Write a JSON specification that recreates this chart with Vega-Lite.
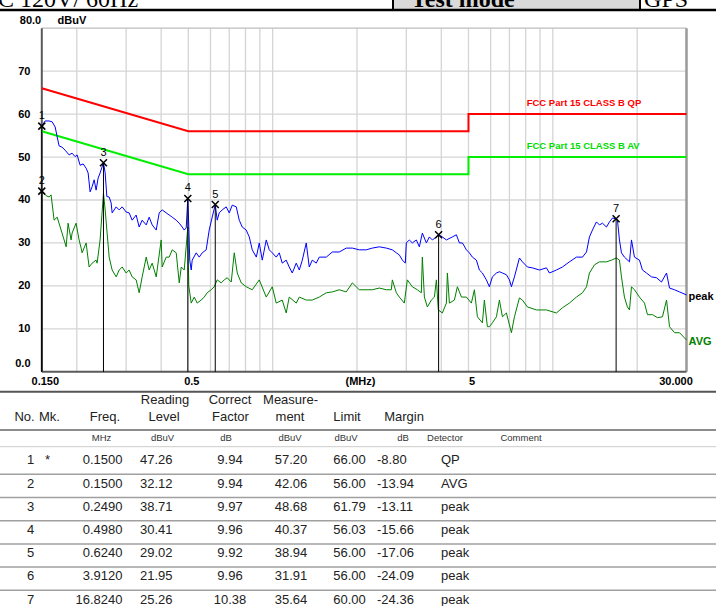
{
"$schema": "https://vega.github.io/schema/vega-lite/v6.json",
"width": 716, "height": 606,
"autosize": {"type": "none"},
"padding": 0,
"background": "white",
"config": {"view": {"stroke": null}, "text": {"font": "Liberation Sans"}},
"datasets": {
"peak": [{"f":0.15,"v":57.2},{"f":0.1541,"v":58.4},{"f":0.1593,"v":58.4},{"f":0.1633,"v":58.2},{"f":0.1674,"v":57.0},{"f":0.1702,"v":54.7},{"f":0.1729,"v":52.6},{"f":0.1772,"v":52.3},{"f":0.1817,"v":51.6},{"f":0.1877,"v":50.5},{"f":0.1924,"v":50.9},{"f":0.1972,"v":50.1},{"f":0.2005,"v":50.5},{"f":0.2055,"v":48.1},{"f":0.2107,"v":48.4},{"f":0.2159,"v":47.4},{"f":0.2195,"v":46.3},{"f":0.2231,"v":41.9},{"f":0.2268,"v":43.1},{"f":0.2306,"v":44.7},{"f":0.2344,"v":42.3},{"f":0.2383,"v":45.1},{"f":0.2422,"v":46.3},{"f":0.249,"v":48.7},{"f":0.2525,"v":46.3},{"f":0.256,"v":40.8},{"f":0.2609,"v":40.7},{"f":0.2652,"v":39.3},{"f":0.2674,"v":37.0},{"f":0.2764,"v":38.4},{"f":0.2833,"v":37.7},{"f":0.2904,"v":38.4},{"f":0.3,"v":37.2},{"f":0.3075,"v":37.0},{"f":0.3152,"v":35.3},{"f":0.3257,"v":36.5},{"f":0.3339,"v":33.7},{"f":0.3422,"v":35.3},{"f":0.3538,"v":34.2},{"f":0.3625,"v":36.0},{"f":0.3716,"v":34.2},{"f":0.3841,"v":33.0},{"f":0.3936,"v":37.0},{"f":0.4034,"v":37.7},{"f":0.417,"v":37.0},{"f":0.4274,"v":36.5},{"f":0.4381,"v":36.0},{"f":0.4527,"v":35.3},{"f":0.4641,"v":34.6},{"f":0.4757,"v":33.7},{"f":0.4835,"v":33.0},{"f":0.4915,"v":33.5},{"f":0.498,"v":40.4},{"f":0.502,"v":34.0},{"f":0.506,"v":26.0},{"f":0.5121,"v":23.7},{"f":0.5163,"v":26.0},{"f":0.5336,"v":27.7},{"f":0.5469,"v":26.7},{"f":0.5606,"v":27.7},{"f":0.5792,"v":28.4},{"f":0.5937,"v":33.0},{"f":0.6085,"v":36.0},{"f":0.624,"v":38.9},{"f":0.6341,"v":35.3},{"f":0.6447,"v":37.0},{"f":0.6608,"v":37.7},{"f":0.6828,"v":38.4},{"f":0.7,"v":37.0},{"f":0.7175,"v":38.8},{"f":0.7415,"v":38.4},{"f":0.76,"v":35.3},{"f":0.779,"v":33.7},{"f":0.805,"v":33.0},{"f":0.8251,"v":31.4},{"f":0.8457,"v":28.4},{"f":0.8745,"v":26.7},{"f":0.8958,"v":30.0},{"f":0.9182,"v":26.0},{"f":0.9488,"v":30.7},{"f":0.9725,"v":28.4},{"f":0.9968,"v":27.7},{"f":1.03,"v":26.7},{"f":1.056,"v":27.7},{"f":1.082,"v":25.3},{"f":1.118,"v":26.0},{"f":1.146,"v":24.4},{"f":1.175,"v":23.0},{"f":1.214,"v":25.3},{"f":1.245,"v":23.7},{"f":1.276,"v":26.0},{"f":1.318,"v":30.0},{"f":1.351,"v":24.4},{"f":1.385,"v":26.0},{"f":1.431,"v":25.3},{"f":1.467,"v":26.7},{"f":1.554,"v":26.7},{"f":1.633,"v":27.9},{"f":1.729,"v":27.9},{"f":1.831,"v":28.8},{"f":1.925,"v":28.8},{"f":2.038,"v":28.4},{"f":2.159,"v":28.4},{"f":2.268,"v":28.8},{"f":2.402,"v":29.1},{"f":2.546,"v":28.8},{"f":2.674,"v":28.4},{"f":2.764,"v":27.7},{"f":2.833,"v":27.2},{"f":2.904,"v":26.0},{"f":2.975,"v":25.3},{"f":3.0,"v":30.0},{"f":3.075,"v":30.7},{"f":3.152,"v":30.0},{"f":3.257,"v":30.7},{"f":3.339,"v":29.1},{"f":3.422,"v":32.3},{"f":3.538,"v":30.0},{"f":3.625,"v":31.4},{"f":3.716,"v":30.7},{"f":3.841,"v":31.4},{"f":3.912,"v":31.9},{"f":4.034,"v":31.4},{"f":4.17,"v":30.7},{"f":4.381,"v":31.4},{"f":4.527,"v":31.9},{"f":4.641,"v":30.0},{"f":4.757,"v":30.0},{"f":4.915,"v":28.4},{"f":5.037,"v":27.7},{"f":5.163,"v":26.7},{"f":5.336,"v":26.0},{"f":5.469,"v":23.7},{"f":5.606,"v":23.0},{"f":5.792,"v":21.4},{"f":5.937,"v":19.8},{"f":6.085,"v":22.1},{"f":6.29,"v":23.0},{"f":6.447,"v":23.3},{"f":6.608,"v":23.0},{"f":6.828,"v":22.6},{"f":7.0,"v":21.4},{"f":7.116,"v":19.8},{"f":7.294,"v":22.1},{"f":7.6,"v":26.5},{"f":7.79,"v":25.6},{"f":8.117,"v":24.4},{"f":8.457,"v":24.2},{"f":8.958,"v":23.7},{"f":9.488,"v":24.2},{"f":9.725,"v":23.0},{"f":10.3,"v":23.7},{"f":10.82,"v":24.4},{"f":11.46,"v":25.6},{"f":12.14,"v":26.7},{"f":12.76,"v":26.7},{"f":13.19,"v":27.9},{"f":13.51,"v":31.4},{"f":13.85,"v":33.0},{"f":14.31,"v":34.9},{"f":14.67,"v":34.2},{"f":15.04,"v":34.6},{"f":15.54,"v":33.7},{"f":15.93,"v":34.9},{"f":16.33,"v":35.8},{"f":16.824,"v":35.6},{"f":17.01,"v":35.3},{"f":17.29,"v":30.7},{"f":17.58,"v":27.7},{"f":18.01,"v":26.7},{"f":18.78,"v":25.6},{"f":19.09,"v":30.7},{"f":19.56,"v":26.7},{"f":20.38,"v":26.0},{"f":20.89,"v":23.7},{"f":21.59,"v":23.0},{"f":22.5,"v":22.1},{"f":23.45,"v":21.9},{"f":24.42,"v":20.9},{"f":25.46,"v":23.0},{"f":26.09,"v":19.5},{"f":27.19,"v":19.1},{"f":28.33,"v":18.6},{"f":30.0,"v":17.9}],
"avg": [{"f":0.15,"v":42.0},{"f":0.1554,"v":41.0},{"f":0.1593,"v":40.7},{"f":0.1619,"v":41.2},{"f":0.166,"v":35.3},{"f":0.1702,"v":36.0},{"f":0.1758,"v":33.0},{"f":0.1802,"v":30.7},{"f":0.1832,"v":29.1},{"f":0.1862,"v":34.6},{"f":0.1908,"v":30.7},{"f":0.1924,"v":32.3},{"f":0.1988,"v":34.6},{"f":0.2038,"v":30.7},{"f":0.2072,"v":28.8},{"f":0.2089,"v":27.7},{"f":0.2159,"v":30.0},{"f":0.2213,"v":24.4},{"f":0.2268,"v":25.3},{"f":0.2344,"v":26.0},{"f":0.2363,"v":25.3},{"f":0.2422,"v":30.7},{"f":0.249,"v":41.6},{"f":0.2525,"v":37.7},{"f":0.256,"v":33.0},{"f":0.2609,"v":26.7},{"f":0.2674,"v":23.7},{"f":0.2764,"v":22.1},{"f":0.2833,"v":23.7},{"f":0.2904,"v":24.4},{"f":0.3,"v":23.0},{"f":0.3075,"v":23.7},{"f":0.3152,"v":22.1},{"f":0.3257,"v":21.4},{"f":0.3339,"v":18.4},{"f":0.3422,"v":22.1},{"f":0.3538,"v":26.7},{"f":0.3625,"v":23.7},{"f":0.3716,"v":25.3},{"f":0.3841,"v":22.1},{"f":0.4001,"v":30.7},{"f":0.4034,"v":24.4},{"f":0.417,"v":26.7},{"f":0.4274,"v":26.7},{"f":0.4381,"v":28.4},{"f":0.4527,"v":27.7},{"f":0.4641,"v":20.7},{"f":0.4718,"v":24.4},{"f":0.4835,"v":23.7},{"f":0.498,"v":33.7},{"f":0.502,"v":20.0},{"f":0.5121,"v":16.0},{"f":0.5249,"v":17.4},{"f":0.538,"v":16.0},{"f":0.556,"v":16.7},{"f":0.5698,"v":17.4},{"f":0.584,"v":18.4},{"f":0.6035,"v":19.1},{"f":0.6187,"v":19.8},{"f":0.6341,"v":21.4},{"f":0.6554,"v":20.7},{"f":0.6717,"v":21.4},{"f":0.6885,"v":21.9},{"f":0.7116,"v":20.9},{"f":0.7294,"v":27.7},{"f":0.7476,"v":23.0},{"f":0.7726,"v":20.7},{"f":0.805,"v":19.8},{"f":0.8457,"v":19.1},{"f":0.8958,"v":21.4},{"f":0.9488,"v":17.4},{"f":0.9968,"v":19.8},{"f":1.03,"v":16.0},{"f":1.082,"v":16.7},{"f":1.118,"v":13.7},{"f":1.146,"v":17.4},{"f":1.214,"v":16.0},{"f":1.245,"v":17.4},{"f":1.318,"v":16.7},{"f":1.385,"v":16.7},{"f":1.467,"v":17.4},{"f":1.554,"v":18.4},{"f":1.633,"v":18.6},{"f":1.729,"v":19.1},{"f":1.831,"v":18.6},{"f":1.925,"v":20.7},{"f":2.038,"v":19.1},{"f":2.159,"v":19.1},{"f":2.268,"v":19.1},{"f":2.402,"v":19.5},{"f":2.546,"v":19.1},{"f":2.652,"v":19.1},{"f":2.674,"v":21.4},{"f":2.764,"v":18.4},{"f":2.833,"v":17.4},{"f":2.951,"v":16.0},{"f":3.025,"v":21.4},{"f":3.152,"v":19.8},{"f":3.284,"v":19.1},{"f":3.394,"v":18.4},{"f":3.422,"v":26.7},{"f":3.48,"v":17.4},{"f":3.567,"v":15.1},{"f":3.685,"v":16.7},{"f":3.778,"v":17.4},{"f":3.841,"v":21.4},{"f":3.903,"v":14.4},{"f":4.034,"v":13.7},{"f":4.17,"v":16.0},{"f":4.204,"v":23.0},{"f":4.274,"v":16.0},{"f":4.453,"v":16.7},{"f":4.564,"v":19.8},{"f":4.718,"v":17.4},{"f":4.915,"v":17.4},{"f":5.121,"v":16.0},{"f":5.249,"v":19.1},{"f":5.38,"v":12.8},{"f":5.606,"v":11.4},{"f":5.698,"v":16.7},{"f":5.84,"v":10.5},{"f":5.937,"v":10.5},{"f":6.085,"v":11.4},{"f":6.29,"v":12.8},{"f":6.447,"v":16.7},{"f":6.608,"v":12.8},{"f":6.828,"v":13.7},{"f":7.116,"v":9.1},{"f":7.294,"v":12.8},{"f":7.6,"v":17.2},{"f":7.79,"v":16.7},{"f":8.117,"v":15.1},{"f":8.74,"v":14.4},{"f":9.488,"v":14.4},{"f":10.3,"v":13.7},{"f":10.82,"v":14.9},{"f":11.46,"v":16.0},{"f":12.14,"v":17.4},{"f":12.76,"v":18.4},{"f":13.19,"v":19.8},{"f":13.51,"v":23.0},{"f":14.08,"v":24.9},{"f":14.67,"v":25.6},{"f":15.54,"v":25.6},{"f":16.19,"v":26.0},{"f":16.87,"v":26.5},{"f":17.29,"v":26.0},{"f":17.58,"v":22.1},{"f":18.01,"v":17.4},{"f":18.46,"v":15.1},{"f":18.78,"v":14.4},{"f":19.09,"v":19.8},{"f":19.56,"v":19.1},{"f":20.38,"v":17.4},{"f":21.24,"v":16.0},{"f":21.77,"v":13.3},{"f":22.69,"v":13.3},{"f":23.64,"v":12.6},{"f":24.62,"v":12.8},{"f":25.46,"v":16.7},{"f":26.09,"v":10.5},{"f":27.19,"v":9.1},{"f":28.33,"v":9.1},{"f":30.0,"v":7.4}],
"limits": [{"k":"QP","i":1,"f":0.15,"v":66},{"k":"QP","i":2,"f":0.5,"v":56},{"k":"QP","i":3,"f":5,"v":56},{"k":"QP","i":4,"f":5,"v":60},{"k":"QP","i":5,"f":30,"v":60},{"k":"AV","i":1,"f":0.15,"v":56},{"k":"AV","i":2,"f":0.5,"v":46},{"k":"AV","i":3,"f":5,"v":46},{"k":"AV","i":4,"f":5,"v":50},{"k":"AV","i":5,"f":30,"v":50}],
"markers": [{"no":1,"f":0.15,"v":57.2},{"no":2,"f":0.15,"v":42.06},{"no":3,"f":0.249,"v":48.68},{"no":4,"f":0.498,"v":40.37},{"no":5,"f":0.624,"v":38.94},{"no":6,"f":3.912,"v":31.91},{"no":7,"f":16.824,"v":35.64}],
"table": [
{"no":1,"mk":"*","freq":"0.1500","read":"47.26","fac":"9.94","meas":"57.20","lim":"66.00","mar":"-8.80","det":"QP"},
{"no":2,"mk":"","freq":"0.1500","read":"32.12","fac":"9.94","meas":"42.06","lim":"56.00","mar":"-13.94","det":"AVG"},
{"no":3,"mk":"","freq":"0.2490","read":"38.71","fac":"9.97","meas":"48.68","lim":"61.79","mar":"-13.11","det":"peak"},
{"no":4,"mk":"","freq":"0.4980","read":"30.41","fac":"9.96","meas":"40.37","lim":"56.03","mar":"-15.66","det":"peak"},
{"no":5,"mk":"","freq":"0.6240","read":"29.02","fac":"9.92","meas":"38.94","lim":"56.00","mar":"-17.06","det":"peak"},
{"no":6,"mk":"","freq":"3.9120","read":"21.95","fac":"9.96","meas":"31.91","lim":"56.00","mar":"-24.09","det":"peak"},
{"no":7,"mk":"","freq":"16.8240","read":"25.26","fac":"10.38","meas":"35.64","lim":"60.00","mar":"-24.36","det":"peak"}],
"one": [{"z":0}]
},
"layer": [
{
"layer": [
{"data":{"name":"peak"},
 "mark":{"type":"line","color":"#0000ff","strokeWidth":1,"opacity":0},
 "encoding":{
  "x":{"field":"f","type":"quantitative","scale":{"type":"log","domain":[0.106387,38.23],"nice":false},
   "axis":{"orient":"bottom","offset":-234.2,"values":[0.15,0.5,2,5,30],
    "labelExpr":"datum.value == 0.15 ? '0.150' : datum.value == 0.5 ? '0.5' : datum.value == 2 ? '(MHz)' : datum.value == 5 ? '5' : '30.000'",
    "title":null,"domain":false,"ticks":false,"tickSize":0,"grid":false,
    "labelFont":"Liberation Sans","labelFontSize":11,"labelFontWeight":"bold","labelColor":"#000000",
    "labelPadding":3.5,"labelFlush":false,"labelOverlap":false,"labelBound":false,"labelAlign":"center","labelBaseline":"top",
    "labelOffset":{"condition":{"test":"datum.value == 30","value":-11},"value":3}}},
  "y":{"field":"v","type":"quantitative","scale":{"domain":[-54.529,86.566],"nice":false,"zero":false},
   "axis":{"orient":"left","offset":-41.8,"values":[0,10,20,30,40,50,60,70,80],
    "labelExpr":"datum.value == 0 ? '0.0' : datum.value == 80 ? '80.0' : datum.label",
    "title":"dBuV","titleAngle":0,"titleX":15.2,"titleY":20,"titleAlign":"left","titleBaseline":"middle",
    "titleFont":"Liberation Sans","titleFontSize":11,"titleFontWeight":"bold","titleColor":"#000000",
    "domain":false,"ticks":false,"tickSize":0,"grid":false,
    "labelFont":"Liberation Sans","labelFontSize":11,"labelFontWeight":"bold","labelColor":"#000000",
    "labelPadding":11.8,"labelFlush":false,"labelOverlap":false,"labelBaseline":"middle",
    "labelAlign":{"condition":{"test":"datum.value == 80","value":"center"},"value":"right"},
    "labelOffset":{"condition":{"test":"datum.value == 0 || datum.value == 80","value":-8},"value":0}}}}},
{"data":{"values":[{"db":10},{"db":20},{"db":30},{"db":40},{"db":50},{"db":60},{"db":70}]},
 "mark":{"type":"rule","color":"#d5d5d5","strokeWidth":1.3},
 "encoding":{"x":{"datum":0.15,"type":"quantitative"},"x2":{"datum":30},
  "y":{"field":"db","type":"quantitative"}}},
{"data":{"values":[{"g":0.2},{"g":0.3},{"g":0.4},{"g":0.5},{"g":0.6},{"g":0.7},{"g":0.8},{"g":0.9},{"g":1},{"g":2},{"g":3},{"g":4},{"g":5},{"g":6},{"g":7},{"g":8},{"g":9},{"g":10},{"g":20}]},
 "mark":{"type":"rule","color":"#d5d5d5","strokeWidth":1.3},
 "encoding":{"x":{"field":"g","type":"quantitative"},
  "y":{"datum":0,"type":"quantitative"},"y2":{"datum":80}}},
{"data":{"name":"one"},"mark":{"type":"rule","color":"#bdbdbd","strokeWidth":1.2},
 "encoding":{"x":{"datum":0.15,"type":"quantitative"},"x2":{"datum":30},"y":{"datum":80,"type":"quantitative"}}},
{"data":{"name":"one"},"mark":{"type":"rule","color":"#9a9a9a","strokeWidth":2.5},
 "encoding":{"x":{"datum":30,"type":"quantitative"},"y":{"datum":0,"type":"quantitative"},"y2":{"datum":80}}},
{"data":{"name":"one"},"mark":{"type":"rule","color":"#5a5a5a","strokeWidth":2},
 "encoding":{"x":{"datum":0.15,"type":"quantitative"},"y":{"datum":0,"type":"quantitative"},"y2":{"datum":80}}},
{"data":{"name":"one"},"mark":{"type":"rule","color":"#5a5a5a","strokeWidth":2},
 "encoding":{"x":{"datum":0.15,"type":"quantitative"},"x2":{"datum":30},"y":{"datum":0,"type":"quantitative"}}},
{"data":{"name":"limits"},"transform":[{"filter":"datum.k == 'QP'"}],
 "mark":{"type":"line","color":"#ff0000","strokeWidth":2},
 "encoding":{"x":{"field":"f","type":"quantitative"},"y":{"field":"v","type":"quantitative"},"order":{"field":"i","type":"quantitative"}}},
{"data":{"name":"limits"},"transform":[{"filter":"datum.k == 'AV'"}],
 "mark":{"type":"line","color":"#00ee00","strokeWidth":2},
 "encoding":{"x":{"field":"f","type":"quantitative"},"y":{"field":"v","type":"quantitative"},"order":{"field":"i","type":"quantitative"}}},
{"data":{"name":"avg"},
 "mark":{"type":"line","color":"#008000","strokeWidth":1,"strokeJoin":"round"},
 "encoding":{"x":{"field":"f","type":"quantitative"},"y":{"field":"v","type":"quantitative"}}},
{"data":{"name":"peak"},
 "mark":{"type":"line","color":"#0000ff","strokeWidth":1,"strokeJoin":"round"},
 "encoding":{"x":{"field":"f","type":"quantitative"},"y":{"field":"v","type":"quantitative"}}},
{"data":{"name":"markers"},"mark":{"type":"rule","color":"#000000","strokeWidth":1},
 "encoding":{"x":{"field":"f","type":"quantitative"},"y":{"field":"v","type":"quantitative"},"y2":{"datum":0}}},
{"data":{"name":"markers"},"mark":{"type":"point","shape":"M-1,-1L1,1M1,-1L-1,1","filled":false,"stroke":"#000000","strokeWidth":1.5,"size":49,"opacity":1},
 "encoding":{"x":{"field":"f","type":"quantitative"},"y":{"field":"v","type":"quantitative"}}},
{"data":{"name":"markers"},"mark":{"type":"text","dy":-10,"fontSize":11,"color":"#000000","baseline":"middle"},
 "encoding":{"x":{"field":"f","type":"quantitative"},"y":{"field":"v","type":"quantitative"},"text":{"field":"no","type":"nominal"}}},
{"data":{"name":"one"},"mark":{"type":"text","text":"peak","align":"left","baseline":"middle","dx":2,"fontSize":11,"fontWeight":"bold","color":"#000000"},
 "encoding":{"x":{"datum":30,"type":"quantitative"},"y":{"datum":17.49,"type":"quantitative"}}},
{"data":{"name":"one"},"mark":{"type":"text","text":"AVG","align":"left","baseline":"middle","dx":2,"fontSize":11,"fontWeight":"bold","color":"#008000"},
 "encoding":{"x":{"datum":30,"type":"quantitative"},"y":{"datum":6.87,"type":"quantitative"}}},
{"data":{"name":"one"},"mark":{"type":"text","text":"FCC Part 15 CLASS B QP","align":"left","baseline":"middle","fontSize":9.5,"fontWeight":"bold","color":"#ff0000"},
 "encoding":{"x":{"datum":8.067,"type":"quantitative"},"y":{"datum":62.65,"type":"quantitative"}}},
{"data":{"name":"one"},"mark":{"type":"text","text":"FCC Part 15 CLASS B AV","align":"left","baseline":"middle","fontSize":9.5,"fontWeight":"bold","color":"#00dd00"},
 "encoding":{"x":{"datum":8.067,"type":"quantitative"},"y":{"datum":52.57,"type":"quantitative"}}},
{"data":{"name":"one"},"mark":{"type":"rect","color":"#d9d9d9"},
 "encoding":{"x":{"datum":2.689,"type":"quantitative"},"x2":{"datum":20.47},"y":{"datum":84.24,"type":"quantitative"},"y2":{"datum":86.7}}},
{"data":{"name":"one"},"mark":{"type":"text","text":"C 120V/ 60Hz","align":"left","baseline":"alphabetic","font":"Liberation Serif","fontSize":24,"color":"#000000"},
 "encoding":{"x":{"datum":0.1047,"type":"quantitative"},"y":{"datum":84.94,"type":"quantitative"}}},
{"data":{"name":"one"},"mark":{"type":"text","text":"Test mode","align":"left","baseline":"alphabetic","font":"Liberation Serif","fontSize":24,"fontWeight":"bold","color":"#000000"},
 "encoding":{"x":{"datum":3.117,"type":"quantitative"},"y":{"datum":84.94,"type":"quantitative"}}},
{"data":{"name":"one"},"mark":{"type":"text","text":"GPS","align":"left","baseline":"alphabetic","font":"Liberation Serif","fontSize":24,"color":"#000000"},
 "encoding":{"x":{"datum":21.17,"type":"quantitative"},"y":{"datum":84.94,"type":"quantitative"}}},
{"data":{"name":"one"},"mark":{"type":"rule","color":"#000000","strokeWidth":2.5},
 "encoding":{"x":{"datum":0.106387,"type":"quantitative"},"x2":{"datum":38.23},"y":{"datum":84.24,"type":"quantitative"}}},
{"data":{"name":"one"},"mark":{"type":"rule","color":"#000000","strokeWidth":2},
 "encoding":{"x":{"datum":2.689,"type":"quantitative"},"y":{"datum":84.24,"type":"quantitative"},"y2":{"datum":86.7}}},
{"data":{"name":"one"},"mark":{"type":"rule","color":"#000000","strokeWidth":2},
 "encoding":{"x":{"datum":20.47,"type":"quantitative"},"y":{"datum":84.24,"type":"quantitative"},"y2":{"datum":86.7}}}
]
},
{
"data": {"name": "table"},
"layer": [
{"data":{"name":"one"},"mark":{"type":"rule","color":"#555555","strokeWidth":2},
 "encoding":{"y":{"datum":-1.966,"type":"quantitative","scale":{"domain":[-18.849,7.2716],"reverse":true,"nice":false,"zero":false},"axis":null}}},
{"data":{"name":"one"},"mark":{"type":"rule","color":"#8c8c8c","strokeWidth":2},"encoding":{"y":{"datum":-0.315,"type":"quantitative","axis":null}}},
{"data":{"name":"one"},"mark":{"type":"rule","color":"#cccccc","strokeWidth":1},"encoding":{"y":{"datum":0.405,"type":"quantitative","axis":null}}},
{"data":{"name":"one"},"mark":{"type":"rule","color":"#a0a0a0","strokeWidth":1.5},"encoding":{"y":{"datum":1.595,"type":"quantitative","axis":null}}},
{"data":{"name":"one"},"mark":{"type":"rule","color":"#a0a0a0","strokeWidth":1.5},"encoding":{"y":{"datum":2.595,"type":"quantitative","axis":null}}},
{"data":{"name":"one"},"mark":{"type":"rule","color":"#a0a0a0","strokeWidth":1.5},"encoding":{"y":{"datum":3.595,"type":"quantitative","axis":null}}},
{"data":{"name":"one"},"mark":{"type":"rule","color":"#a0a0a0","strokeWidth":1.5},"encoding":{"y":{"datum":4.595,"type":"quantitative","axis":null}}},
{"data":{"name":"one"},"mark":{"type":"rule","color":"#a0a0a0","strokeWidth":1.5},"encoding":{"y":{"datum":5.595,"type":"quantitative","axis":null}}},
{"data":{"name":"one"},"mark":{"type":"rule","color":"#a0a0a0","strokeWidth":1.5},"encoding":{"y":{"datum":6.595,"type":"quantitative","axis":null}}},
{"data":{"name":"one"},"mark":{"type":"text","text":"Reading","dx":-29,"fontSize":13,"color":"#222222","baseline":"middle"},"encoding":{"x":{"datum":"Reading","type":"nominal","scale":{"type":"point","domain":["No.","Mk.","Freq.","Reading","Correct","Measure","Limit","Margin","Detector","Comment"],"range":[30.5,521],"padding":0},"axis":null},"y":{"datum":-1.608,"type":"quantitative","axis":null}}},
{"data":{"name":"one"},"mark":{"type":"text","text":"Correct","dx":-18.5,"fontSize":13,"color":"#222222","baseline":"middle"},"encoding":{"x":{"datum":"Correct","type":"nominal","axis":null},"y":{"datum":-1.608,"type":"quantitative","axis":null}}},
{"data":{"name":"one"},"mark":{"type":"text","text":"Measure-","dx":-12.5,"fontSize":13,"color":"#222222","baseline":"middle"},"encoding":{"x":{"datum":"Measure","type":"nominal","axis":null},"y":{"datum":-1.608,"type":"quantitative","axis":null}}},
{"data":{"name":"one"},"mark":{"type":"text","text":"No.","dx":-6,"fontSize":13,"color":"#222222","baseline":"middle"},"encoding":{"x":{"datum":"No.","type":"nominal","axis":null},"y":{"datum":-0.862,"type":"quantitative","axis":null}}},
{"data":{"name":"one"},"mark":{"type":"text","text":"Mk.","dx":-35.5,"fontSize":13,"color":"#222222","baseline":"middle"},"encoding":{"x":{"datum":"Mk.","type":"nominal","axis":null},"y":{"datum":-0.862,"type":"quantitative","axis":null}}},
{"data":{"name":"one"},"mark":{"type":"text","text":"Freq.","dx":-34.5,"fontSize":13,"color":"#222222","baseline":"middle"},"encoding":{"x":{"datum":"Freq.","type":"nominal","axis":null},"y":{"datum":-0.862,"type":"quantitative","axis":null}}},
{"data":{"name":"one"},"mark":{"type":"text","text":"Level","dx":-30,"fontSize":13,"color":"#222222","baseline":"middle"},"encoding":{"x":{"datum":"Reading","type":"nominal","axis":null},"y":{"datum":-0.862,"type":"quantitative","axis":null}}},
{"data":{"name":"one"},"mark":{"type":"text","text":"Factor","dx":-18,"fontSize":13,"color":"#222222","baseline":"middle"},"encoding":{"x":{"datum":"Correct","type":"nominal","axis":null},"y":{"datum":-0.862,"type":"quantitative","axis":null}}},
{"data":{"name":"one"},"mark":{"type":"text","text":"ment","dx":-13,"fontSize":13,"color":"#222222","baseline":"middle"},"encoding":{"x":{"datum":"Measure","type":"nominal","axis":null},"y":{"datum":-0.862,"type":"quantitative","axis":null}}},
{"data":{"name":"one"},"mark":{"type":"text","text":"Limit","dx":-10.5,"fontSize":13,"color":"#222222","baseline":"middle"},"encoding":{"x":{"datum":"Limit","type":"nominal","axis":null},"y":{"datum":-0.862,"type":"quantitative","axis":null}}},
{"data":{"name":"one"},"mark":{"type":"text","text":"Margin","dx":-8,"fontSize":13,"color":"#222222","baseline":"middle"},"encoding":{"x":{"datum":"Margin","type":"nominal","axis":null},"y":{"datum":-0.862,"type":"quantitative","axis":null}}},
{"data":{"name":"one"},"mark":{"type":"text","text":"MHz","dx":-38,"fontSize":9.5,"color":"#333333","baseline":"middle"},"encoding":{"x":{"datum":"Freq.","type":"nominal","axis":null},"y":{"datum":0.043,"type":"quantitative","axis":null}}},
{"data":{"name":"one"},"mark":{"type":"text","text":"dBuV","dx":-31.5,"fontSize":9.5,"color":"#333333","baseline":"middle"},"encoding":{"x":{"datum":"Reading","type":"nominal","axis":null},"y":{"datum":0.043,"type":"quantitative","axis":null}}},
{"data":{"name":"one"},"mark":{"type":"text","text":"dB","dx":-22.5,"fontSize":9.5,"color":"#333333","baseline":"middle"},"encoding":{"x":{"datum":"Correct","type":"nominal","axis":null},"y":{"datum":0.043,"type":"quantitative","axis":null}}},
{"data":{"name":"one"},"mark":{"type":"text","text":"dBuV","dx":-13,"fontSize":9.5,"color":"#333333","baseline":"middle"},"encoding":{"x":{"datum":"Measure","type":"nominal","axis":null},"y":{"datum":0.043,"type":"quantitative","axis":null}}},
{"data":{"name":"one"},"mark":{"type":"text","text":"dBuV","dx":-11.5,"fontSize":9.5,"color":"#333333","baseline":"middle"},"encoding":{"x":{"datum":"Limit","type":"nominal","axis":null},"y":{"datum":0.043,"type":"quantitative","axis":null}}},
{"data":{"name":"one"},"mark":{"type":"text","text":"dB","dx":-9,"fontSize":9.5,"color":"#333333","baseline":"middle"},"encoding":{"x":{"datum":"Margin","type":"nominal","axis":null},"y":{"datum":0.043,"type":"quantitative","axis":null}}},
{"data":{"name":"one"},"mark":{"type":"text","text":"Detector","dx":-21.5,"fontSize":9.5,"color":"#333333","baseline":"middle"},"encoding":{"x":{"datum":"Detector","type":"nominal","axis":null},"y":{"datum":0.043,"type":"quantitative","axis":null}}},
{"data":{"name":"one"},"mark":{"type":"text","text":"Comment","dx":0,"fontSize":9.5,"color":"#333333","baseline":"middle"},"encoding":{"x":{"datum":"Comment","type":"nominal","axis":null},"y":{"datum":0.043,"type":"quantitative","axis":null}}},
{"mark":{"type":"text","align":"center","dx":0,"fontSize":13,"color":"#222222","baseline":"middle"},"encoding":{"x":{"datum":"No.","type":"nominal","axis":null},"y":{"field":"no","type":"quantitative","axis":null},"text":{"field":"no","type":"nominal"}}},
{"mark":{"type":"text","align":"center","dx":-37.5,"fontSize":13,"color":"#222222","baseline":"middle"},"encoding":{"x":{"datum":"Mk.","type":"nominal","axis":null},"y":{"field":"no","type":"quantitative","axis":null},"text":{"field":"mk","type":"nominal"}}},
{"mark":{"type":"text","align":"right","dx":-17,"fontSize":13,"color":"#222222","baseline":"middle"},"encoding":{"x":{"datum":"Freq.","type":"nominal","axis":null},"y":{"field":"no","type":"quantitative","axis":null},"text":{"field":"freq","type":"nominal"}}},
{"mark":{"type":"text","align":"right","dx":-21.5,"fontSize":13,"color":"#222222","baseline":"middle"},"encoding":{"x":{"datum":"Reading","type":"nominal","axis":null},"y":{"field":"no","type":"quantitative","axis":null},"text":{"field":"read","type":"nominal"}}},
{"mark":{"type":"text","align":"center","dx":-18.5,"fontSize":13,"color":"#222222","baseline":"middle"},"encoding":{"x":{"datum":"Correct","type":"nominal","axis":null},"y":{"field":"no","type":"quantitative","axis":null},"text":{"field":"fac","type":"nominal"}}},
{"mark":{"type":"text","align":"center","dx":-12,"fontSize":13,"color":"#222222","baseline":"middle"},"encoding":{"x":{"datum":"Measure","type":"nominal","axis":null},"y":{"field":"no","type":"quantitative","axis":null},"text":{"field":"meas","type":"nominal"}}},
{"mark":{"type":"text","align":"center","dx":-8,"fontSize":13,"color":"#222222","baseline":"middle"},"encoding":{"x":{"datum":"Limit","type":"nominal","axis":null},"y":{"field":"no","type":"quantitative","axis":null},"text":{"field":"lim","type":"nominal"}}},
{"mark":{"type":"text","align":"left","dx":-35,"fontSize":13,"color":"#222222","baseline":"middle"},"encoding":{"x":{"datum":"Margin","type":"nominal","axis":null},"y":{"field":"no","type":"quantitative","axis":null},"text":{"field":"mar","type":"nominal"}}},
{"mark":{"type":"text","align":"left","dx":-25.5,"fontSize":13,"color":"#222222","baseline":"middle"},"encoding":{"x":{"datum":"Detector","type":"nominal","axis":null},"y":{"field":"no","type":"quantitative","axis":null},"text":{"field":"det","type":"nominal"}}}
]
}
],
"resolve": {"scale": {"x": "independent", "y": "independent"}}
}
